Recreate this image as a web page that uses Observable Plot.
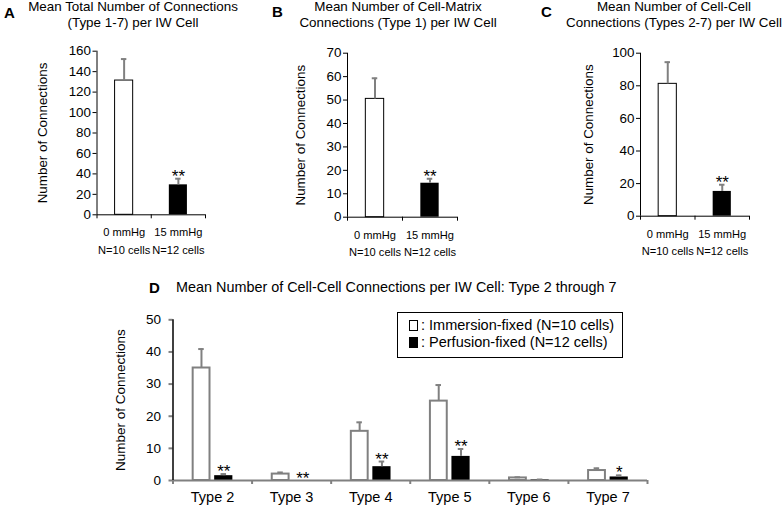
<!DOCTYPE html>
<html><head><meta charset="utf-8">
<script src="https://cdn.jsdelivr.net/npm/d3@7"></script>
<script src="https://cdn.jsdelivr.net/npm/@observablehq/plot@0.6"></script>
<style>
body{margin:0;background:#fff;}
#root{position:relative;width:782px;height:505px;overflow:hidden;font-family:"Liberation Sans",Arial,sans-serif;color:#000;background:#fff;}
.title{position:absolute;text-align:center;font-size:13.4px;line-height:16px;white-space:nowrap;}
.letter{position:absolute;font-weight:bold;font-size:15px;line-height:15px;}
#root svg{position:absolute;}
.legend{position:absolute;border:1px solid #000;font-size:14.5px;line-height:17px;box-sizing:border-box;padding:4px 0 0 11px;white-space:nowrap;}
.sw{display:inline-block;width:7px;height:9px;border:1px solid #000;margin-right:3px;vertical-align:-1px;}
</style></head><body><div id="root"></div>
<script>
// ---- data ----
const groups = ["0 mmHg", "15 mmHg"];
const groupN = ["N=10 cells", "N=12 cells"];
const sigAC = ["", "**"];

const totalMean = [131.3, 29.3];
const totalErr = [21, 6];
const matrixMean = [50.5, 14.5];
const matrixErr = [8.8, 1.9];
const cellMean = [81.2, 15.2];
const cellErr = [13.3, 4.1];

const types = ["Type 2", "Type 3", "Type 4", "Type 5", "Type 6", "Type 7"];
const immersionMean = [35.0, 2.0, 15.3, 24.7, 0.8, 3.1];
const immersionErr = [5.9, 0.5, 2.8, 5.0, 0.2, 0.7];
const perfusionMean = [1.5, 0, 4.3, 7.5, 0.2, 1.1];
const perfusionErr = [0.5, 0, 1.6, 2.3, 0.1, 0.5];
const sigD = ["**", "**", "**", "**", "", "*"];

const ticksA = [0, 20, 40, 60, 80, 100, 120, 140, 160];
const ticksB = [0, 10, 20, 30, 40, 50, 60, 70];
const ticksC = [0, 20, 40, 60, 80, 100];
const ticksD = [0, 10, 20, 30, 40, 50];

const FONT = "'Liberation Sans', Arial, sans-serif";
const GREY = "#808080";
const root = document.getElementById("root");

function add(el, left, top) { el.style.left = left + "px"; el.style.top = top + "px"; root.appendChild(el); return el; }
function div(cls, html, left, top, extra) {
  const d = document.createElement("div"); d.className = cls; d.innerHTML = html;
  if (extra) Object.assign(d.style, extra);
  return add(d, left, top);
}

function smallPanel(means, errs, ticks, left, f, labelOffset) {
  const W = 262, H = 262;
  const data = groups.map((g, i) => ({i, g, n: groupN[i], v: means[i], e: errs[i], s: sigAC[i]}));
  const yMax = ticks[ticks.length - 1];
  const p = Plot.plot({
    width: W, height: H,
    marginLeft: f.x0, marginRight: W - f.x1, marginTop: f.yTop, marginBottom: H - f.yBot,
    x: {domain: [0, 2]}, y: {domain: [0, yMax]},
    style: {fontFamily: FONT, fontSize: "13.4px", background: "transparent", overflow: "visible", color: "black"},
    marks: [
      Plot.rectY(data.filter(d => d.i === 0), {x1: d => d.i + 1/3, x2: d => d.i + 2/3, y1: 0, y2: "v", fill: "white", stroke: "black", strokeWidth: 1}),
      Plot.rectY(data.filter(d => d.i === 1), {x1: d => d.i + 1/3, x2: d => d.i + 2/3, y1: 0, y2: "v", fill: "black"}),
      Plot.ruleX(data, {x: d => d.i + 0.5, y1: "v", y2: d => d.v + d.e, stroke: GREY, strokeWidth: 2}),
      Plot.ruleY(data, {y: d => d.v + d.e, x1: d => d.i + 0.5 - 0.05, x2: d => d.i + 0.5 + 0.05, stroke: GREY, strokeWidth: 2}),
      Plot.text(data.filter(d => d.s), {x: d => d.i + 0.5, y: d => d.v + d.e, text: "s", lineAnchor: "bottom", dy: 3, fontSize: 17}),
      Plot.text(data, {x: d => d.i + 0.5, y: () => 0, text: d => d.g + "\n" + d.n, lineAnchor: "top", dy: 8.8, fontSize: 11.1, lineHeight: 1.6}),
      Plot.axisY({ticks, tickSize: 4, tickPadding: 2, fontSize: 13.4, label: "Number of Connections", labelAnchor: "center", labelArrow: "none", labelOffset}),
      Plot.axisX({ticks: [0, 1, 2], tickSize: 4, tickFormat: () => "", label: null}),
      Plot.ruleX([0], {stroke: "black"}),
      Plot.ruleY([0], {stroke: "black"})
    ]
  });
  add(p, left, 0);
}

smallPanel(totalMean, totalErr, ticksA, 0, {x0: 96.5, x1: 205, yTop: 50.7, yBot: 214.3}, 59.5);
smallPanel(matrixMean, matrixErr, ticksB, 260, {x0: 87, x1: 197, yTop: 52.7, yBot: 216.7}, 52);
smallPanel(cellMean, cellErr, ticksC, 520, {x0: 120, x1: 229, yTop: 52.7, yBot: 215.7}, 57);

// Panel D
{
  const W = 782, H = 235;
  const rows = types.map((t, i) => ({i, t, iv: immersionMean[i], ie: immersionErr[i], pv: perfusionMean[i], pe: perfusionErr[i], s: sigD[i]}));
  const ix = i => i + 0.36, px = i => i + 0.642;
  const p = Plot.plot({
    width: W, height: H,
    marginLeft: 172.5, marginRight: 135, marginTop: 49.3, marginBottom: 25,
    x: {domain: [0, 6]}, y: {domain: [0, 50]},
    style: {fontFamily: FONT, fontSize: "14.5px", background: "transparent", overflow: "visible", color: "black"},
    marks: [
      Plot.rectY(rows, {x1: d => d.i + 0.255, x2: d => d.i + 0.468, y1: 0, y2: "iv", fill: "white", stroke: GREY, strokeWidth: 2}),
      Plot.rectY(rows, {x1: d => d.i + 0.527, x2: d => d.i + 0.757, y1: 0, y2: "pv", fill: "black"}),
      Plot.ruleX(rows.filter(d => d.ie > 0), {x: d => ix(d.i), y1: "iv", y2: d => d.iv + d.ie, stroke: GREY, strokeWidth: 2}),
      Plot.ruleY(rows.filter(d => d.ie > 0), {y: d => d.iv + d.ie, x1: d => ix(d.i) - 0.035, x2: d => ix(d.i) + 0.035, stroke: GREY, strokeWidth: 2}),
      Plot.ruleX(rows.filter(d => d.pe > 0), {x: d => px(d.i), y1: "pv", y2: d => d.pv + d.pe, stroke: GREY, strokeWidth: 2}),
      Plot.ruleY(rows.filter(d => d.pe > 0), {y: d => d.pv + d.pe, x1: d => px(d.i) - 0.035, x2: d => px(d.i) + 0.035, stroke: GREY, strokeWidth: 2}),
      Plot.text(rows.filter(d => d.s), {x: d => px(d.i), y: d => d.pv + d.pe, text: "s", lineAnchor: "bottom", dy: 3, fontSize: 17}),
      Plot.text(rows, {x: d => d.i + 0.5, y: () => 0, text: "t", lineAnchor: "top", dy: 11.7, fontSize: 14.5}),
      Plot.axisX({ticks: [0, 1, 2, 3, 4, 5, 6], tickSize: 4, stroke: GREY, strokeWidth: 2, tickFormat: () => "", label: null}),
      Plot.ruleY([0], {stroke: GREY, strokeWidth: 2}),
      Plot.axisY({ticks: ticksD, tickSize: 4, tickPadding: 8, stroke: GREY, strokeWidth: 2, fill: "black", fontSize: 13.5, label: "Number of Connections", labelAnchor: "center", labelArrow: "none", labelOffset: 57.5}),
      Plot.ruleX([0], {stroke: "black", strokeWidth: 1.5})
    ]
  });
  add(p, 0, 270);
}

// titles
div("letter", "A", 4, 5);
div("title", "Mean Total Number of Connections<br>(Type 1-7) per IW Cell", 133 - 120, -1, {width: "240px"});
div("letter", "B", 272, 4);
div("title", "Mean Number of Cell-Matrix<br>Connections (Type 1) per IW Cell", 398 - 120, -1, {width: "240px"});
div("letter", "C", 541, 4);
div("title", "Mean Number of Cell-Cell<br>Connections (Types 2-7) per IW Cell", 674 - 120, -1, {width: "240px"});
div("letter", "D", 149, 280, {fontSize: "15px"});
div("title", "Mean Number of Cell-Cell Connections per IW Cell: Type 2 through 7", 176, 279, {fontSize: "14.4px", lineHeight: "17px", textAlign: "left"});

// legend
div("legend",
  '<div><span class="sw" style="background:#fff"></span>: Immersion-fixed (N=10 cells)</div>' +
  '<div><span class="sw" style="background:#000"></span>: Perfusion-fixed (N=12 cells)</div>',
  397, 312, {width: "226px", height: "46px"});
</script></body></html>
